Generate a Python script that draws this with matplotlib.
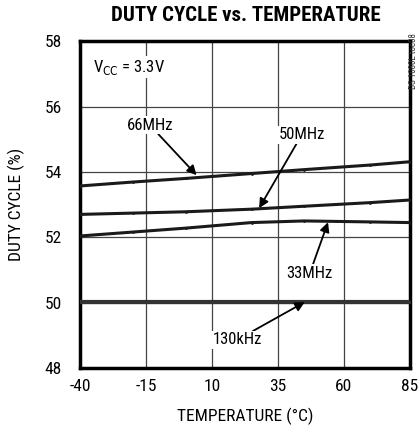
import matplotlib
matplotlib.use("Agg")
import matplotlib.pyplot as plt
from matplotlib import font_manager

# ----- data -----
temps = [-40, -20, 0, 25, 45, 70, 85]
duty_66mhz = [53.57, 53.69, 53.80, 53.95, 54.07, 54.21, 54.31]
duty_50mhz = [52.70, 52.74, 52.78, 52.86, 52.95, 53.06, 53.14]
duty_33mhz = [52.04, 52.16, 52.28, 52.45, 52.50, 52.47, 52.45]
duty_130khz = [50.02, 50.02, 50.02, 50.02, 50.02, 50.02, 50.02]

x_ticks = [-40, -15, 10, 35, 60, 85]
y_ticks = [48, 50, 52, 54, 56, 58]

names = {f.name for f in font_manager.fontManager.ttflist}
for cand in ["Liberation Sans Narrow", "DejaVu Sans Condensed", "Roboto Condensed"]:
    if cand in names:
        narrow = cand
        break
else:
    narrow = "DejaVu Sans"
plt.rcParams["font.family"] = [narrow, "DejaVu Sans"]
plt.rcParams["font.stretch"] = "condensed"
plt.rcParams["axes.unicode_minus"] = False

fig = plt.figure(figsize=(4.19, 4.33), dpi=100)
ax = fig.add_axes([0.191, 0.150, 0.787, 0.755])

ax.set_xlim(-40, 85)
ax.set_ylim(48, 58)
ax.set_xticks(x_ticks)
ax.set_yticks(y_ticks)
ax.tick_params(axis="y", length=0, labelsize=12.5, pad=13)
ax.tick_params(axis="x", length=0, labelsize=12.5, pad=8)
ax.grid(True, color="#444444", linewidth=0.9)
ax.set_axisbelow(True)
for s in ax.spines.values():
    s.set_linewidth(2.5)

for ys, lw, col in [(duty_66mhz, 2.2, "#1a1a1a"), (duty_50mhz, 2.2, "#1a1a1a"),
                    (duty_33mhz, 2.2, "#1a1a1a"), (duty_130khz, 3.0, "#333333")]:
    ax.plot(temps, ys, color=col, linewidth=lw, marker="o", markersize=1.0, zorder=3)

box = dict(facecolor="white", edgecolor="none", pad=1)
ax.text(-35, 57.2, "V$_{\\mathsf{CC}}$ = 3.3V", fontsize=12, va="center", ha="left", bbox=box)

arrow = dict(arrowstyle="-|>", color="black", lw=1.3, mutation_scale=14, shrinkA=0, shrinkB=0)
ax.annotate("66MHz", xy=(4.2, 53.9), xytext=(-13.5, 55.43), fontsize=12,
            ha="center", va="center", arrowprops=arrow, bbox=box)
ax.annotate("50MHz", xy=(27.9, 52.89), xytext=(44, 55.13), fontsize=12,
            ha="center", va="center", arrowprops=arrow, bbox=box)
ax.annotate("33MHz", xy=(54, 52.46), xytext=(47.1, 50.9), fontsize=12,
            ha="center", va="center", arrowprops=arrow, bbox=box)
ax.annotate("130kHz", xy=(45.2, 50.02), xytext=(19.5, 48.86), fontsize=12,
            ha="center", va="center", arrowprops=arrow, bbox=box)

ax.set_xlabel("TEMPERATURE (°C)", fontsize=12.5, labelpad=10)
ax.set_ylabel("DUTY CYCLE (%)", fontsize=12.5, labelpad=14)
fig.text(0.587, 0.965, "DUTY CYCLE vs. TEMPERATURE", fontsize=15, fontweight="heavy",
         ha="center", va="center")
fig.text(0.986, 0.86, "DS 1080L toc08", fontsize=6.5, rotation=90, ha="center", va="center",
         color="#333333")

fig.savefig("out.png", dpi=100)
